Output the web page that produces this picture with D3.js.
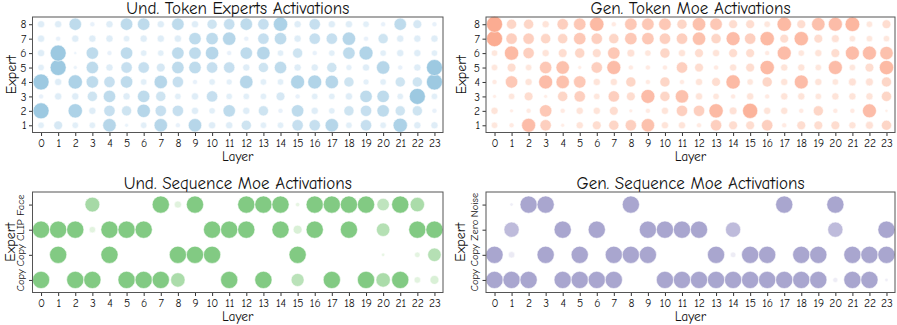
<!DOCTYPE html>
<html>
<head>
<meta charset="utf-8">
<script src="https://cdn.jsdelivr.net/npm/d3@7"></script>
<style>
  body { margin: 0; background: #fff; }
  svg text { font-family: "Comic Sans MS", "Comic Neue", "DejaVu Sans", sans-serif; fill: #111; }
</style>
</head>
<body>
<div id="chart"></div>
<script>
// layers 0..23
var layers = d3.range(24);
var tokenExperts = [1, 2, 3, 4, 5, 6, 7, 8];
var undSeqExperts = ["Copy", "Copy", "CLIP", "Face"];
var genSeqExperts = ["Copy", "Copy", "Zero", "Noise"];

// token level activations, one row per expert (1..8), one value per layer
var undTokenE1 = [0.8,1.5,0.8,0.8,3.5,0.3,0.8,3.5,0.5,3.5,1,1,2,0.8,0.8,2.5,2.5,3.5,0.8,2.5,0.8,4,1,1];
var undTokenE2 = [5,0,4,1,2.5,2,3.5,2.5,2.5,1,0.8,3,1,2,0.5,3,1,0.8,2,2.5,3,2,2,0.5];
var undTokenE3 = [0.5,1,1,2,3,1,3,2,0.8,1,2.5,0.8,0.8,0.8,1.5,0.5,0.8,0.8,1,3,3,0.8,5,0.8];
var undTokenE4 = [5,1,4,3,2.5,3,0.8,3.5,2.5,0.5,0.8,0.7,3.5,0.8,0.8,3.8,3.8,3.5,2,0.7,0.8,2,2,5];
var undTokenE5 = [0.8,5,0.3,3,1,2.5,2.5,1.5,3,3,2.5,2.5,1,2,3,1,1,2,0.7,1,3.5,0.5,1,5];
var undTokenE6 = [1,5,0.2,3,0.5,3,0.8,0.8,3,3,3.5,0.5,3,3.5,0.8,2,0.5,0.8,3,3.8,0.8,1,1,0.8];
var undTokenE7 = [1,0.5,1,1,1,0.8,1,1,1,3,3,3.5,0.5,2.5,3,1,2.5,2.5,3.5,0.5,2,1,1,1];
var undTokenE8 = [1,1,3,0.5,1,3,3,1,3,1,2,2.5,3,2.5,4,1,2.5,1,1,0.8,0.5,3,1.5,0.5];

var genTokenE1 = [0.8,0.5,3.8,2.5,0.3,1,1.5,2,2.5,3.5,1,1,0.5,2.5,1.5,1.5,2.5,0.5,1.5,1.5,1.5,1,1.2,2];
var genTokenE2 = [1,0.3,0.5,3,0.5,1,1,1.5,0.3,0.5,1,2.5,2.5,4,1.2,4.5,1,1,0.5,2,0.5,0.5,3.8,0.2];
var genTokenE3 = [0.3,0.8,1.5,0.3,2,2.5,0.8,2.5,1.5,3.8,2,3.5,1,0.8,0.5,1,0.5,1,1,0.8,1,1,1,2];
var genTokenE4 = [0.5,3,1,3.8,3.5,3,1,1,2,0.5,2,0.5,1,1.5,4,0.8,2,1,3.8,1,0.8,1.2,1.2,2];
var genTokenE5 = [0.8,1.5,0.8,3,3.5,0.3,2.5,3.8,0.5,0.5,0.5,2.5,1.5,0.5,1,1.5,4,1,1,0.8,3.8,0.8,1.5,4];
var genTokenE6 = [0.8,4,2.5,1,1.5,2,1.5,3,1.2,0.8,2,1,1.5,1,1.5,1.5,0.5,3.8,0.8,1,1.5,3.8,3.8,3.5];
var genTokenE7 = [5,2.5,2.5,2,2,3,2.5,2,3,3,2.5,2.5,3.5,2,3.8,2.5,4,1.5,4,1.5,1.2,0.8,0.8,0.8];
var genTokenE8 = [5,2,2,1,2.5,3,4,0.5,3,3,3,2,3.5,3,1.5,1.5,0.8,4,1.5,3.5,3.8,4.2,0.8,1.5];

// sequence level activations, rows bottom to top
var undSeqCopyA = [1,0,1,1,0,1,1,1,0.6,0,0,1,0,1,0,0.45,0,1,0,1,0.6,1,0.06,0.15];
var undSeqCopyB = [0,1,0,0,1,0,0,0,1,1,1,0,0,0,0,1,0,0,0,0,0.01,0,0.04,0.5];
var undSeqClip  = [1,1,1,0.06,1,1,1,0,0,0,1,1,1,0,1,0.15,1,0,1,0,0.5,0,1,1];
var undSeqFace  = [0,0,0,0.65,0,0,0,1,0.08,1,0,0,1,1,1,0.02,1,1,1,1,0.4,1,0.6,0];

var genSeqCopyA = [1,1,1,0,1,1,1,1,0,0,1,1,1,1,1,1,1,1,1,1,0.03,1,1,0.01];
var genSeqCopyB = [1,0.06,0,1,0,1,0,1,1,1,0,0,0,1,0.04,1,1,0,1,1,0,1,1,1];
var genSeqZero  = [0,0.7,0,0,1,0,1,0,0,1,1,1,1,0,0.7,0,0,0,0,0,0.7,0,0,1];
var genSeqNoise = [0,0.01,1,1,0,0,0,0,1,0,0,0,0,0,0,0,0,1,0,0,1,0,0,0];

var width = 897, height = 325;

var svg = d3.select("#chart").append("svg")
  .attr("width", width)
  .attr("height", height);

// build cell list from rows
function cells(rows) {
  var out = [];
  rows.forEach(function(row, r) {
    row.forEach(function(v, l) {
      out.push({layer: layers[l], row: r, value: v});
    });
  });
  return out;
}

function drawPanel(opt) {
  var g = svg.append("g");

  var x = d3.scaleLinear()
    .domain([-0.5, 23.5])
    .range([opt.x0, opt.x1]);

  var n = opt.yLabels.length;
  var y = d3.scaleLinear()
    .domain([-0.5, n - 0.5])
    .range([opt.y1, opt.y0]);

  var r = d3.scalePow().exponent(opt.exp)
    .domain([0, opt.vmax])
    .range([0, opt.rmax]);

  var color = d3.scaleLinear()
    .domain([0, opt.vmax])
    .range([opt.light, opt.dark])
    .interpolate(d3.interpolateRgb);

  // bubbles
  g.append("g").selectAll("circle")
    .data(cells(opt.rows).filter(function(d) { return d.value > 0; }))
    .enter().append("circle")
    .attr("cx", function(d) { return x(d.layer); })
    .attr("cy", function(d) { return y(d.row); })
    .attr("r", function(d) { return r(d.value); })
    .attr("fill", function(d) { return color(d.value); })
    .attr("fill-opacity", 0.9)
    .attr("stroke", "#fff")
    .attr("stroke-opacity", 0.55)
    .attr("stroke-width", 1);

  // x axis
  var xa = g.append("g")
    .attr("transform", "translate(0," + opt.y1 + ")")
    .call(d3.axisBottom(x).tickValues(layers).tickSize(3.5).tickPadding(2.5));
  xa.select(".domain").remove();
  xa.selectAll("text").style("font-size", "11.5px");
  xa.selectAll("line").attr("stroke", "#333");

  // y axis
  var ya = g.append("g")
    .attr("transform", "translate(" + opt.x0 + ",0)")
    .call(d3.axisLeft(y).tickValues(d3.range(n))
      .tickFormat(function(i) { return opt.yLabels[i]; })
      .tickSize(3.5).tickPadding(2.5));
  ya.select(".domain").remove();
  ya.selectAll("line").attr("stroke", "#333");
  ya.selectAll("text").style("font-size", "11.5px");
  if (opt.rotateY) {
    ya.selectAll("text")
      .style("font-size", "10.5px")
      .attr("x", 0).attr("dy", "0")
      .attr("transform", "translate(-8.5,0) rotate(-90)")
      .style("text-anchor", "middle");
  }

  // frame
  g.append("rect")
    .attr("x", opt.x0).attr("y", opt.y0)
    .attr("width", opt.x1 - opt.x0)
    .attr("height", opt.y1 - opt.y0)
    .attr("fill", "none")
    .attr("stroke", "#555")
    .attr("stroke-width", 1);

  // title
  g.append("text")
    .attr("x", (opt.x0 + opt.x1) / 2)
    .attr("y", opt.y0 - 3.5)
    .style("text-anchor", "middle")
    .style("font-size", "17px")
    .text(opt.title);

  g.append("text")
    .attr("x", (opt.x0 + opt.x1) / 2)
    .attr("y", opt.y1 + 28)
    .style("text-anchor", "middle")
    .style("font-size", "13.5px")
    .text("Layer");

  g.append("text")
    .attr("transform", "translate(" + (opt.x0 - opt.ylab) + "," + ((opt.y0 + opt.y1) / 2) + ") rotate(-90)")
    .style("text-anchor", "middle")
    .style("font-size", "14px")
    .text("Expert");
}

drawPanel({
  title: "Und. Token Experts Activations",
  x0: 32.5, x1: 443, y0: 17, y1: 132.5,
  yLabels: tokenExperts,
  rows: [undTokenE1, undTokenE2, undTokenE3, undTokenE4, undTokenE5, undTokenE6, undTokenE7, undTokenE8],
  vmax: 5, rmax: 8, exp: 0.5,
  light: "#eef5fc", dark: "#92c3de",
  ylab: 17
});

drawPanel({
  title: "Gen. Token Moe Activations",
  x0: 486, x1: 895, y0: 17, y1: 132.5,
  yLabels: tokenExperts,
  rows: [genTokenE1, genTokenE2, genTokenE3, genTokenE4, genTokenE5, genTokenE6, genTokenE7, genTokenE8],
  vmax: 5, rmax: 8, exp: 0.5,
  light: "#fff0e9", dark: "#fba386",
  ylab: 20
});

drawPanel({
  title: "Und. Sequence Moe Activations",
  x0: 32.5, x1: 443, y0: 192, y1: 292.5,
  yLabels: undSeqExperts,
  rows: [undSeqCopyA, undSeqCopyB, undSeqClip, undSeqFace],
  vmax: 1, rmax: 8.6, exp: 0.35, rotateY: true,
  light: "#e6f5e2", dark: "#74c476",
  ylab: 18
});

drawPanel({
  title: "Gen. Sequence Moe Activations",
  x0: 486, x1: 895, y0: 192, y1: 292.5,
  yLabels: genSeqExperts,
  rows: [genSeqCopyA, genSeqCopyB, genSeqZero, genSeqNoise],
  vmax: 1, rmax: 8.6, exp: 0.35, rotateY: true,
  light: "#eeedf6", dark: "#a09cca",
  ylab: 21
});
</script>
</body>
</html>
